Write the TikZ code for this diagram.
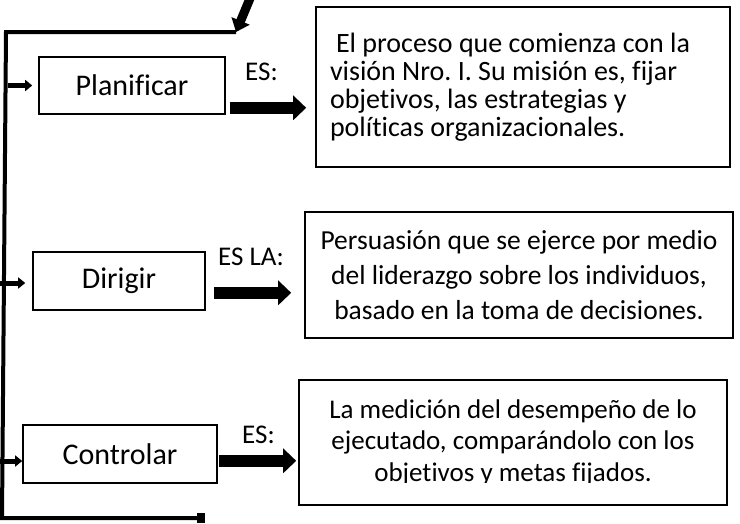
\documentclass[tikz,border=0pt]{standalone}
\usepackage{fontspec}
\setmainfont{Carlito}[Ligatures={NoCommon}]
\usetikzlibrary{arrows.meta,positioning}

\begin{document}
\frenchspacing
\begin{tikzpicture}[x=1pt, y=-1pt,
  stepbox/.style={draw, line width=1.6pt, minimum height=57pt, inner sep=0pt, font=\fontsize{30}{34}\selectfont},
  descbox/.style={draw, line width=1.6pt, inner ysep=0pt, font=\fontsize{27}{31}\selectfont},
  eslabel/.style={inner sep=0pt, anchor=west, font=\fontsize{27}{31}\selectfont},
  bigarrow/.style={line width=12pt, -{Triangle[length=13pt,width=24pt]}},
  smallarrow/.style={line width=5pt, -{Triangle[length=7pt,width=11pt]}},
  toparrow/.style={line width=9pt, -{Triangle[length=12pt,width=19pt]}},
  spine/.style={line width=4pt}]

\useasboundingbox (0,0) rectangle (740,523);

% Steps
\node[stepbox, minimum width=186pt] (plan) at (132,85.5) {Planificar};
\node[stepbox, minimum width=172pt, minimum height=58pt] (dir) at (119,281) {Dirigir};
\node[stepbox, minimum width=194pt, minimum height=58pt] (ctrl) at (120,454) {Controlar};

% Descriptions
\node[descbox, inner xsep=14pt, text width=386pt, minimum height=160pt, align=flush left,
  font=\fontsize{28}{28}\selectfont] (desc1) at (523,87)
  {\hspace{6pt}El proceso que comienza con la\\visión Nro. I. Su misión es, fijar\\objetivos, las estrategias y\\políticas organizacionales.};
\node[descbox, minimum width=428pt, minimum height=126pt, align=center,
  font=\fontsize{27.5}{35}\selectfont] (desc2) at (519,275)
  {Persuasión que se ejerce por medio\\del liderazgo sobre los individuos,\\basado en la toma de decisiones.};
\node[descbox, minimum width=428pt, minimum height=125pt] (desc3) at (513,442.5) {};
\begin{scope}
  \clip (desc3.north west) rectangle ([yshift=23pt]desc3.south east);
  \node[align=center, font=\fontsize{27}{31.5}\selectfont] (desc3text) at (desc3.center)
    {La medición del desempeño de lo\\ejecutado, comparándolo con los\\objetivos y metas fijados.};
\end{scope}

% Labels
\node[eslabel] (es1) at (245,72) {ES:};
\node[eslabel] (es2) at (218,257) {ES LA:};
\node[eslabel] (es3) at (242,435) {ES:};

% Spine
\coordinate (corner) at (236,32);
\coordinate (topleft) at (6,32);
\coordinate (botleft) at (2,518);
\coordinate (entry) at (251,-4);
\node[fill, minimum width=8pt, minimum height=10pt, inner sep=0pt] (stop) at (201,518) {};
\draw[spine] (corner) -- (topleft) -- (botleft) -- (stop.west);
\draw[toparrow] (entry) -- (corner);

% Connections
\draw[smallarrow, shorten >=6pt] ([xshift=-30pt]plan.west) -- (plan.west);
\draw[smallarrow, shorten >=7pt] ([xshift=-33pt,yshift=-2pt]dir.west) -- ([yshift=-2pt]dir.west);
\draw[smallarrow] ([xshift=-23pt,yshift=-7pt]ctrl.west) -- ([yshift=-7pt]ctrl.west);

\coordinate (a1) at ([xshift=4pt,yshift=7pt]plan.south east);
\coordinate (a2) at ([xshift=8pt,yshift=18pt]dir.south east);
\coordinate (a3) at ([xshift=1pt,yshift=23pt]ctrl.south east);
\draw[bigarrow, shorten >=9pt] (a1) -- (a1 -| desc1.west);
\draw[bigarrow, shorten >=13pt] (a2) -- (a2 -| desc2.west);
\draw[bigarrow, shorten >=2pt] (a3) -- (a3 -| desc3.west);
\end{tikzpicture}
\end{document}
